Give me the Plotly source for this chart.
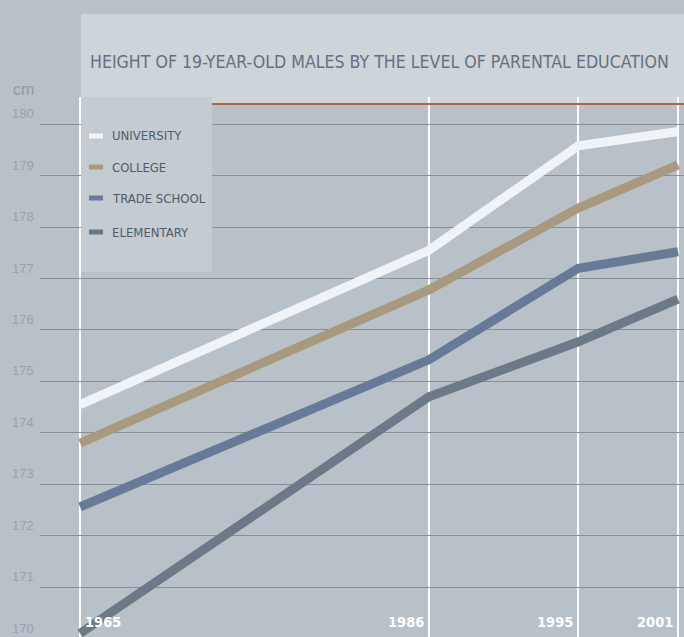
import plotly.graph_objects as go

years = [1965, 1986, 1995, 2001]
year_labels = ["1965", "1986", "1995", "2001"]
series_names = ["UNIVERSITY", "COLLEGE", "TRADE SCHOOL", "ELEMENTARY"]
university = [174.55, 177.55, 179.58, 179.86]
college = [173.8, 176.78, 178.37, 179.21]
trade_school = [172.56, 175.42, 177.2, 177.52]
elementary = [170.1, 174.7, 175.77, 176.6]
y_ticks = [170, 171, 172, 173, 174, 175, 176, 177, 178, 179, 180]
colors = ["#f1f4f6", "#a89a7c", "#677b99", "#6b7988"]
title_text = "HEIGHT OF 19-YEAR-OLD MALES BY THE LEVEL OF PARENTAL EDUCATION"

BG = "#b8c1c8"
COND = "DejaVu Sans Condensed, Liberation Sans Narrow, sans-serif"
Y_RANGE = [170.03, 180.53]

fig = go.Figure()
for name, vals, c in zip(series_names, [university, college, trade_school, elementary], colors):
    fig.add_trace(go.Scatter(x=years, y=vals, mode="lines", name=name,
                             line=dict(color=c, width=9), showlegend=False))

W, H = 684, 637
ml, mt = 40, 97
pw, ph = W - ml, H - mt

def px_x(p):
    return (p - ml) / pw

def px_y(p):
    return (H - p) / ph

shapes = []
annotations = []
# title band
shapes.append(dict(type="rect", xref="paper", yref="paper", x0=px_x(81), x1=px_x(690),
                   y0=px_y(103), y1=px_y(14), fillcolor="#cdd4da", line=dict(width=0), layer="below"))
shapes.append(dict(type="line", xref="paper", yref="paper", x0=px_x(81), x1=px_x(690),
                   y0=px_y(104), y1=px_y(104), line=dict(color="#b0673f", width=2)))
annotations.append(dict(text=title_text, xref="paper", yref="paper", x=px_x(88), y=px_y(62),
                        xanchor="left", yanchor="middle", showarrow=False,
                        font=dict(family=COND, size=17.6, color="#67707c")))
annotations.append(dict(text="cm", xref="paper", yref="paper", x=px_x(11), y=px_y(90),
                        xanchor="left", yanchor="middle", showarrow=False,
                        font=dict(family="Liberation Sans, Arial, sans-serif", size=16, color="#929aa2")))
# legend box
shapes.append(dict(type="rect", xref="paper", yref="paper", x0=px_x(81), x1=px_x(212),
                   y0=px_y(272), y1=px_y(97), fillcolor="#c4cbd1", line=dict(width=0), layer="above"))
leg_y = [136, 167, 198, 232]
for name, c, yy in zip(series_names, colors, leg_y):
    shapes.append(dict(type="line", xref="paper", yref="paper", x0=px_x(89), x1=px_x(103),
                       y0=px_y(yy), y1=px_y(yy), line=dict(color=c, width=5), layer="above"))
    annotations.append(dict(text=name, xref="paper", yref="paper", x=px_x(110), y=px_y(yy),
                            xanchor="left", yanchor="middle", showarrow=False,
                            font=dict(family=COND, size=13, color="#4f5b6b")))
# y tick labels (drawn just above their gridlines)
for t in y_ticks:
    annotations.append(dict(text=str(t), xref="paper", yref="paper", x=px_x(36),
                            y=(t - Y_RANGE[0]) / (Y_RANGE[1] - Y_RANGE[0]),
                            xanchor="right", yanchor="bottom", yshift=1, showarrow=False,
                            font=dict(family="Liberation Sans, Arial, sans-serif", size=13, color="#9aa2aa")))
# year labels
for yr, lab in zip(years, year_labels):
    first = yr == years[0]
    annotations.append(dict(text="<b>" + lab + "</b>", xref="x", yref="paper", x=yr, y=0,
                            xanchor="left" if first else "right", yanchor="bottom",
                            xshift=3 if first else -3, yshift=5, showarrow=False,
                            font=dict(family=COND, size=14.5, color="#ffffff")))

fig.update_layout(
    width=W, height=H,
    margin=dict(l=ml, r=0, t=mt, b=0),
    paper_bgcolor=BG, plot_bgcolor=BG,
    shapes=shapes, annotations=annotations,
    xaxis=dict(range=[1962.59, 2001.36], tickvals=years, showticklabels=False,
               showgrid=True, gridcolor="#ffffff", gridwidth=1.5, zeroline=False,
               showline=False, ticks=""),
    yaxis=dict(range=Y_RANGE, tickvals=y_ticks, showticklabels=False,
               showgrid=True, gridcolor="#868e96", gridwidth=1, zeroline=False,
               showline=False, ticks=""),
)
fig.write_html("out.html")
